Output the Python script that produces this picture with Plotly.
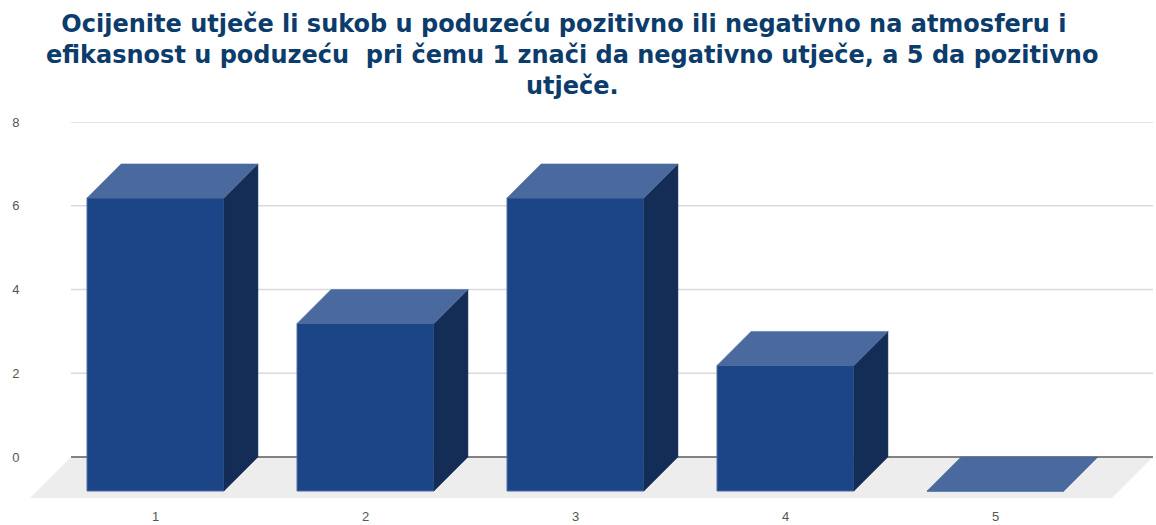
import plotly.graph_objects as go

categories = [1, 2, 3, 4, 5]
category_labels = ["1", "2", "3", "4", "5"]
values = [7, 4, 7, 3, 0]
y_ticks = [0, 2, 4, 6, 8]
title_lines = [
    "Ocijenite utječe li sukob u poduzeću pozitivno ili negativno na atmosferu i\u00a0\u00a0",
    "efikasnost u poduzeću  pri čemu 1 znači da negativno utječe, a 5 da pozitivno",
    "utječe.",
]

FRONT = "#1c4587"
TOP = "#4a6a9f"
SIDE = "#142d57"
EDGE = "#4a6a9f"
FLOOR = "#ededed"
GRID = "#d9d9d9"
ZERO = "#5a5a5a"
TITLE = "#0b3c6b"
TICK = "#555555"

BAR_W = 0.652
DX = 34 / 210      # depth shift of a bar, x units
DY = 34 / 41.875   # depth shift of a bar, y units
X_RANGE = [0.4024, 5.75]
Y_RANGE = [-0.979, 8]
GRID_X0 = 0.5976
FLOOR_RIGHT_FRONT = 5.555

fig = go.Figure()

# Front faces: drawn from the values, standing on the front of the floor.
fig.add_trace(go.Bar(
    x=categories, y=values, base=[-DY] * len(values), width=BAR_W,
    marker=dict(color=FRONT, line=dict(color=EDGE, width=1)),
    hoverinfo="skip", showlegend=False,
))

# Side and top faces, derived from the same values.
for c, v in zip(categories, values):
    l, r = c - BAR_W / 2, c + BAR_W / 2
    if v > 0:
        fig.add_trace(go.Scatter(
            x=[r, r + DX, r + DX, r, r], y=[v - DY, v, 0, -DY, v - DY],
            mode="lines", fill="toself", fillcolor=SIDE,
            line=dict(color=SIDE, width=0.5),
            hoverinfo="skip", showlegend=False,
        ))
    fig.add_trace(go.Scatter(
        x=[l, l + DX, r + DX, r, l], y=[v - DY, v, v, v - DY, v - DY],
        mode="lines", fill="toself", fillcolor=TOP,
        line=dict(color=TOP, width=0.5),
        hoverinfo="skip", showlegend=False,
    ))

shapes = [dict(
    type="path", layer="below", xref="x", yref="y",
    path=f"M {X_RANGE[0]} {Y_RANGE[0]} L {GRID_X0} 0 L {X_RANGE[1]} 0 "
         f"L {FLOOR_RIGHT_FRONT} {Y_RANGE[0]} Z",
    fillcolor=FLOOR, line=dict(width=0),
)]
for t in y_ticks:
    shapes.append(dict(
        type="line", layer="below", xref="x", yref="y",
        x0=GRID_X0, x1=X_RANGE[1], y0=t, y1=t,
        line=dict(color=ZERO if t == 0 else GRID, width=1.3),
    ))

fig.update_layout(
    width=1156, height=525,
    margin=dict(l=30, r=3, t=122, b=27, autoexpand=False),
    paper_bgcolor="white", plot_bgcolor="white",
    showlegend=False,
    shapes=shapes,
    title=dict(
        text="<br>".join(title_lines),
        x=0.495, xanchor="center", y=0.94, yanchor="top",
        font=dict(family="DejaVu Sans", size=24, color=TITLE, weight="bold"),
    ),
    xaxis=dict(
        range=X_RANGE, tickmode="array", tickvals=categories, ticktext=category_labels,
        showgrid=False, zeroline=False, showline=False, automargin=False,
        ticks="outside", ticklen=6, tickcolor="rgba(0,0,0,0)",
        tickfont=dict(family="Liberation Sans", size=13, color=TICK),
    ),
    yaxis=dict(
        range=Y_RANGE, tickmode="array", tickvals=y_ticks, automargin=False,
        showgrid=False, zeroline=False, showline=False,
        ticks="outside", ticklen=7, tickcolor="rgba(0,0,0,0)",
        tickfont=dict(family="Liberation Sans", size=13, color=TICK),
    ),
)

fig.write_html(
    "out.html",
    config={"displayModeBar": False},
    post_script="document.body.style.margin='0';document.body.style.overflow='hidden';",
)
